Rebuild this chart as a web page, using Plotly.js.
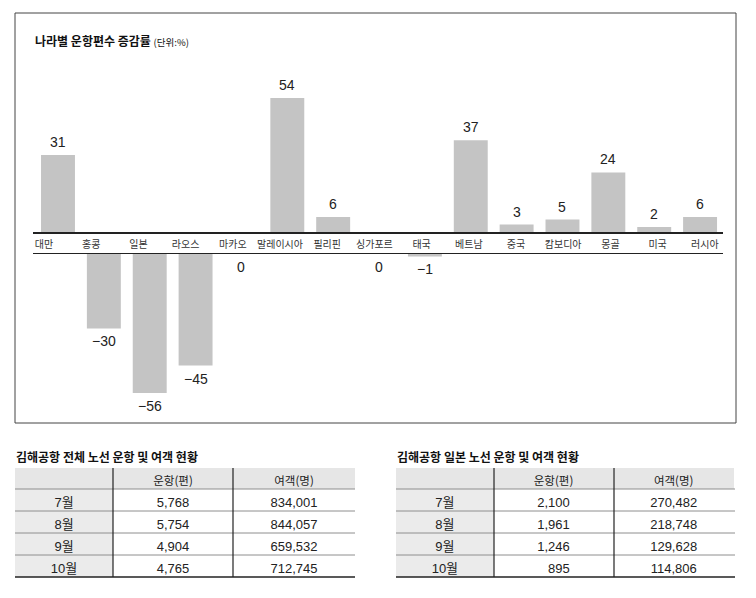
<!DOCTYPE html>
<html><head><meta charset="utf-8">
<script src="https://cdn.plot.ly/plotly-3.0.1.min.js"></script>
<style>html,body{margin:0;padding:0;background:#fff}</style>
</head><body><div id="chart" style="width:756px;height:598px"></div>
<script>
const countries = ['대만','홍콩','일본','라오스','마카오','말레이시아','필리핀','싱가포르','태국','베트남','중국','캄보디아','몽골','미국','러시아'];
const changeRates = [31,-30,-56,-45,0,54,6,0,-1,37,3,5,24,2,6];
const tableHeader = ['', '운항(편)', '여객(명)'];
const months = ['7월','8월','9월','10월'];
const allFlights = [5768,5754,4904,4765];
const allPassengers = [834001,844057,659532,712745];
const japanFlights = [2100,1961,1246,895];
const japanPassengers = [270482,218748,129628,114806];
const chartTitle = '나라별 운항편수 증감률';
const unitText = '(단위:%)';
const tableTitles = ['김해공항 전체 노선 운항 및 여객 현황', '김해공항 일본 노선 운항 및 여객 현황'];

const W = 756, H = 598;
const py = y => 1 - y / H;
const pxX = x => x / W;
const FONT = 'Liberation Sans, Arial, Noto Sans CJK KR, sans-serif';
const KFONT = 'Noto Sans CJK KR, Liberation Sans, sans-serif';

function fmtCol(arr) {
  const s = arr.map(v => v.toLocaleString('en-US'));
  const longest = s.reduce((a, b) => b.length > a.length ? b : a, '');
  return s.map(str => {
    let pad = '';
    const miss = longest.length - str.length;
    for (let k = 0; k < miss; k++) pad += /\d/.test(longest[k]) ? '\u2007' : '\u2008';
    return pad + str;
  });
}

const pos = changeRates.map(v => v > 0 ? v : null);
const neg = changeRates.map(v => v < 0 ? v : null);
const barColor = '#c4c4c4';

const traces = [
  {type:'bar', x: countries, y: pos, xaxis:'x', yaxis:'y', marker:{color:barColor}, hoverinfo:'skip'},
  {type:'bar', x: countries, y: neg, xaxis:'x2', yaxis:'y2', marker:{color:barColor}, hoverinfo:'skip'},
  {type:'scatter', mode:'markers', x: countries, y: countries.map(() => 0), xaxis:'x3', yaxis:'y2', marker:{opacity:0}, hoverinfo:'skip'}
];

const colW1 = [98, 120, 122];
const colW2 = [98, 120, 121];
const hdrH = 21, rowH = 22, tTop = 468;
function tableTrace(x0, colW, flights, pax) {
  const total = colW.reduce((a,b)=>a+b,0);
  return {
    type:'table',
    domain:{x:[pxX(x0), pxX(x0+total)], y:[py(tTop + hdrH + rowH*months.length), py(tTop)]},
    columnwidth: colW,
    header:{values: tableHeader, height: hdrH, align:'center', fill:{color:'#e6e6e6'}, line:{width:0},
      font:{family:KFONT, size:11.5, color:'#222'}},
    cells:{values:[months, fmtCol(flights), fmtCol(pax)], height: rowH, align:'center',
      fill:{color:['#ebebeb','#ffffff','#ffffff']}, line:{width:0},
      font:{family:FONT, size:13, color:'#222'}}
  };
}
traces.push(tableTrace(15, colW1, allFlights, allPassengers));
traces.push(tableTrace(396, colW2, japanFlights, japanPassengers));

const shapes = [
  {type:'rect', xref:'paper', yref:'paper', x0:pxX(15), x1:pxX(736), y0:py(423), y1:py(13), line:{color:'#444', width:1}}
];
function tableLines(x0, colW) {
  const total = colW.reduce((a,b)=>a+b,0);
  const bottom = tTop + hdrH + rowH*months.length;
  for (let r = 0; r < months.length; r++) {
    const y = tTop + hdrH + rowH*r;
    shapes.push({type:'line', xref:'paper', yref:'paper', x0:pxX(x0), x1:pxX(x0+total), y0:py(y), y1:py(y), line:{color:'#8e8e8e', width:1}});
  }
  shapes.push({type:'line', xref:'paper', yref:'paper', x0:pxX(x0), x1:pxX(x0+total), y0:py(bottom), y1:py(bottom), line:{color:'#222', width:1.5}});
  let cx = x0;
  for (let c = 0; c < colW.length - 1; c++) {
    cx += colW[c];
    shapes.push({type:'line', xref:'paper', yref:'paper', x0:pxX(cx), x1:pxX(cx), y0:py(tTop), y1:py(bottom), line:{color:'#222', width:1.2}});
  }
}
tableLines(15, colW1);
tableLines(396, colW2);

const annotations = [];
changeRates.forEach((v, i) => {
  if (v > 0) {
    annotations.push({x: countries[i], y: v, xref:'x', yref:'y', yanchor:'bottom', yshift:3, showarrow:false,
      text: String(v), font:{family:FONT, size:14, color:'#222'}});
  } else {
    annotations.push({x: countries[i], y: v, xref:'x2', yref:'y2', yanchor:'top', yshift:-3, showarrow:false,
      text: v < 0 ? '\u2212' + Math.abs(v) : '0', font:{family:FONT, size:14, color:'#222'}});
  }
});
tableTitles.forEach((t, k) => {
  annotations.push({x: pxX(k === 0 ? 14 : 395), y: py(456), xref:'paper', yref:'paper', xanchor:'left', yanchor:'middle',
    showarrow:false, text:'<b>' + t + '</b>', font:{family:KFONT, size:12, color:'#111'}});
});

const topPxPerUnit = 2.48;
const layout = {
  width: W, height: H, margin:{l:0, r:0, t:0, b:0},
  paper_bgcolor:'#fff', plot_bgcolor:'rgba(0,0,0,0)', showlegend:false, bargap:0.26,
  title:{text:'<b>' + chartTitle + '</b> <span style="font-size:9.5px">' + unitText + '</span>',
    font:{family:KFONT, size:12, color:'#111'}, x:pxX(35), xref:'paper', xanchor:'left', y:py(42), yref:'paper', yanchor:'middle'},
  xaxis:{domain:[pxX(33), pxX(723)], anchor:'y', type:'category', categoryarray:countries, range:[-0.545, 14.5],
    showline:true, linecolor:'#222', linewidth:1.5, showticklabels:false, ticks:'', showgrid:false, zeroline:false, fixedrange:true},
  yaxis:{domain:[py(232), py(60)], range:[0, (232-60)/topPxPerUnit], visible:false, fixedrange:true},
  xaxis2:{domain:[pxX(33), pxX(723)], anchor:'y2', side:'top', type:'category', categoryarray:countries, range:[-0.545, 14.5],
    showline:true, linecolor:'#222', linewidth:1.5, showticklabels:false, ticks:'', showgrid:false, zeroline:false, fixedrange:true},
  yaxis2:{domain:[py(410), py(254)], range:[-(410-254)/topPxPerUnit, 0], visible:false, fixedrange:true},
  xaxis3:{overlaying:'x2', anchor:'y2', side:'top', type:'category', categoryarray:countries, range:[-0.233, 14.386],
    showline:false, ticks:'', showgrid:false, zeroline:false, fixedrange:true, ticklabelstandoff:3,
    tickfont:{family:KFONT, size:10, color:'#333'}},
  shapes: shapes,
  annotations: annotations
};
Plotly.newPlot('chart', traces, layout, {displayModeBar:false, staticPlot:true});
</script></body></html>
